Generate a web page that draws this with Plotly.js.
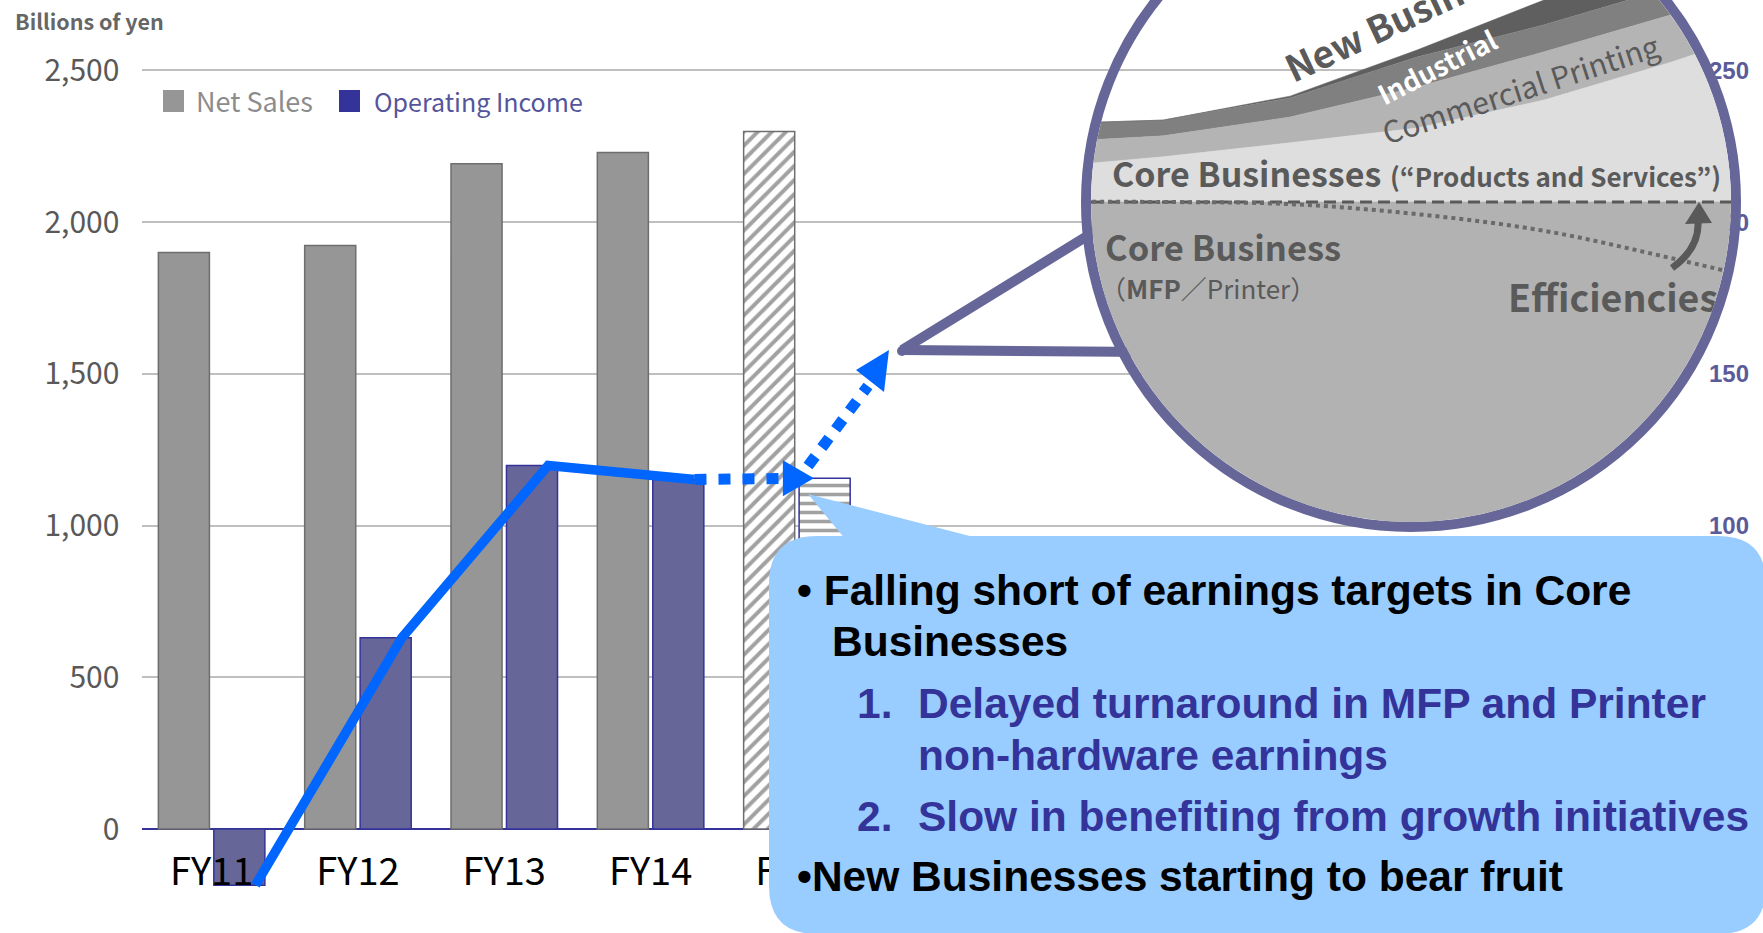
<!DOCTYPE html>
<html><head><meta charset="utf-8">
<script src="https://cdn.plot.ly/plotly-3.0.1.min.js"></script>
<style>
html,body{margin:0;padding:0;background:#fff;overflow:hidden;width:1763px;height:933px;position:relative;}
#main{position:absolute;left:0;top:0;width:1763px;height:933px;}
#lens{position:absolute;left:1081px;top:-128px;width:660px;height:660px;border:10px solid #666699;border-radius:50%;overflow:hidden;box-sizing:border-box;z-index:2;}
#inset{position:absolute;left:0;top:0;width:640px;height:640px;}
</style></head>
<body>
<div id="main"></div>
<div id="lens"><div id="inset"></div></div>
<script>
// ---------------- data ----------------
const categories = ['FY11', 'FY12', 'FY13', 'FY14', 'FY15'];
const netSales = [1900, 1923, 2193, 2230, 2299];
const operatingIncome = [-18.5, 63, 119.8, 115.2, 115.6];
const leftTickVals = [0, 500, 1000, 1500, 2000, 2500];
const leftTickText = ['0', '500', '1,000', '1,500', '2,000', '2,500'];
const rightTickVals = [100, 150, 200, 250];
// inset illustration (stacked bands, same units as right axis)
const insetX = [-1, 0, 1, 2, 3, 4, 5];
const coreMFP = [206.5, 206.5, 206.5, 206.5, 206.5, 206.5, 206.5];
const coreProducts = [11.2, 14.9, 19.5, 24.4, 33.6, 46.1, 60.0];
const commercialPrinting = [8.3, 6.9, 8.5, 13.5, 15.9, 15.6, 14.8];
const industrialBand = [6.2, 5.2, 6.3, 9.9, 8.9, 8.9, 8.3];
const newBusinessBand = [0, 0, 0.6, 2.3, 8.2, 12.5, 16.5];
const efficiencyLine = [206.5, 206.5, 205.8, 202.5, 197, 188, 178];

// ---------------- helpers ----------------
const W = 1763, H = 933;
const fx = px => px / W, fy = py => 1 - py / H;
function pathPx(cmds, X, Y) {
  return cmds.map(c => {
    const k = c[0]; const a = c.slice(1); const out = [];
    for (let i = 0; i < a.length; i += 2) out.push(X(a[i]).toFixed(5) + ',' + Y(a[i + 1]).toFixed(5));
    return k + out.join(' ');
  }).join(' ');
}
function roundRect(x0, y0, x1, y1, r) {
  return [['M', x0 + r, y0], ['L', x1 - r, y0], ['Q', x1, y0, x1, y0 + r], ['L', x1, y1 - r], ['Q', x1, y1, x1 - r, y1],
          ['L', x0 + r, y1], ['Q', x0, y1, x0, y1 - r], ['L', x0, y0 + r], ['Q', x0, y0, x0 + r, y0], ['Z']];
}
const jp = 'Noto Sans CJK JP, Noto Sans, sans-serif';
const ar = 'Liberation Sans, Arial, sans-serif';
const idx = categories.map((c, i) => i);
const lineX = operatingIncome.slice(0, 4).map((v, i) => i + 0.3);

// ---------------- main chart ----------------
const traces = [
  {
    type: 'bar', x: idx, y: netSales, width: 0.349, offset: -0.364, name: 'Net Sales',
    marker: {
      color: netSales.map((v, i) => i === 4 ? '#ffffff' : '#969696'),
      line: { color: '#6e6e6e', width: 1.5 },
      pattern: { shape: netSales.map((v, i) => i === 4 ? '/' : ''), fgcolor: '#8a8a8a', size: 10, solidity: 0.4, fillmode: 'overlay' }
    }
  },
  {
    type: 'bar', x: idx, y: operatingIncome, yaxis: 'y2', width: 0.349, offset: 0.015, name: 'Operating Income',
    marker: {
      color: operatingIncome.map((v, i) => i === 4 ? '#ffffff' : '#666699'),
      line: { color: '#333399', width: 1.5 },
      pattern: { shape: operatingIncome.map((v, i) => i === 4 ? '-' : ''), fgcolor: '#666699', size: 9, solidity: 0.4, fillmode: 'overlay' }
    }
  },
  {
    type: 'scatter', mode: 'lines', x: lineX, y: operatingIncome.slice(0, 4), yaxis: 'y2',
    line: { color: '#0066ff', width: 9.5 }, hoverinfo: 'skip'
  },
  {
    type: 'scatter', mode: 'lines', x: [3.3, 4.0], y: [operatingIncome[3], operatingIncome[4]], yaxis: 'y2',
    line: { color: '#0066ff', width: 11, dash: '12px,12px' }, hoverinfo: 'skip'
  }
];

const shapes = [];
// callout pointer + box
shapes.push({ type: 'path', xref: 'paper', yref: 'paper', layer: 'above', fillcolor: '#99ccff', line: { width: 0 },
  path: pathPx([['M', 808, 494], ['L', 985, 540], ['L', 846, 540], ['Z']], fx, fy) });
shapes.push({ type: 'path', xref: 'paper', yref: 'paper', layer: 'above', fillcolor: '#99ccff', line: { width: 0 },
  path: pathPx(roundRect(769, 536, 1766, 934, 48), fx, fy) });
// magnifier pointer (white wedge, two purple edges, round tip)
shapes.push({ type: 'path', xref: 'paper', yref: 'paper', layer: 'above', fillcolor: '#ffffff', line: { width: 0 },
  path: pathPx([['M', 1110, 222], ['L', 902, 350], ['L', 1150, 352], ['Z']], fx, fy) });
shapes.push({ type: 'line', xref: 'paper', yref: 'paper', layer: 'above', line: { width: 10, color: '#666699' },
  x0: fx(902), y0: fy(350), x1: fx(1110), y1: fy(222) });
shapes.push({ type: 'line', xref: 'paper', yref: 'paper', layer: 'above', line: { width: 10, color: '#666699' },
  x0: fx(902), y0: fy(350), x1: fx(1150), y1: fy(352) });
shapes.push({ type: 'circle', xref: 'paper', yref: 'paper', layer: 'above', fillcolor: '#666699', line: { width: 0 },
  x0: fx(897), x1: fx(907), y0: fy(346), y1: fy(356) });
// legend swatches
shapes.push({ type: 'rect', xref: 'paper', yref: 'paper', layer: 'above', fillcolor: '#969696', line: { width: 0 },
  x0: fx(163), x1: fx(184), y0: fy(90), y1: fy(112) });
shapes.push({ type: 'rect', xref: 'paper', yref: 'paper', layer: 'above', fillcolor: '#333399', line: { width: 0 },
  x0: fx(339), x1: fx(360), y0: fy(90), y1: fy(112) });
// dotted arrow toward magnifier
shapes.push({ type: 'line', xref: 'paper', yref: 'paper', layer: 'above', line: { color: '#0066ff', width: 11, dash: '12px,11px' },
  x0: fx(808), y0: fy(466), x1: fx(868), y1: fy(386) });
shapes.push({ type: 'path', xref: 'paper', yref: 'paper', layer: 'above', fillcolor: '#0066ff', line: { width: 0 },
  path: pathPx([['M', 889, 350], ['L', 856, 370], ['L', 884, 392], ['Z']], fx, fy) });
// arrowhead at end of the dotted forecast line
shapes.push({ type: 'path', xref: 'x', yref: 'y2', xsizemode: 'pixel', ysizemode: 'pixel', layer: 'above',
  xanchor: 4.0, yanchor: operatingIncome[4], fillcolor: '#0066ff', line: { width: 0 },
  path: 'M-14,-18 L17,0 L-14,18 Z' });

const ann = [];
function A(text, px, py, size, color, opts) {
  ann.push(Object.assign({ text: text, xref: 'paper', yref: 'paper', x: fx(px), y: fy(py), showarrow: false,
    xanchor: 'left', yanchor: 'middle', font: { family: ar, size: size, color: color, weight: 'bold' } }, opts || {}));
}
A('Billions of yen', 13, 21, 21, '#666666', { font: { family: jp, size: 21.5, color: '#666666', weight: 'bold' } });
A('Net Sales', 194, 101, 27, '#8c8c8c', { font: { family: jp, size: 27, color: '#8c8c8c' } });
A('Operating Income', 372, 101, 25, '#55559b', { font: { family: jp, size: 25, color: '#55559b' } });
// callout text
A('\u2022 Falling short of earnings targets in Core', 795, 590, 42.5, '#000000');
A('Businesses', 830, 641, 42.5, '#000000');
A('1.', 855, 703, 42.5, '#333399');
A('Delayed turnaround in MFP and Printer', 916, 703, 42.5, '#333399');
A('non-hardware earnings', 916, 755, 42.5, '#333399');
A('2.', 855, 816, 42.5, '#333399');
A('Slow in benefiting from growth initiatives', 916, 816, 42.5, '#333399');
A('\u2022New Businesses starting to bear fruit', 795, 876, 42.5, '#000000');

const layout = {
  width: W, height: H, margin: { l: 0, r: 0, t: 0, b: 0 },
  paper_bgcolor: '#ffffff', plot_bgcolor: '#ffffff', showlegend: false, barmode: 'overlay',
  xaxis: {
    type: 'linear', domain: [fx(142.4), fx(1410)], range: [-0.473, 8.19],
    tickvals: idx, ticktext: categories, anchor: 'free', position: fy(846),
    showgrid: false, zeroline: false, showline: false, ticks: '',
    tickfont: { family: jp, size: 38, color: '#000000' }
  },
  yaxis: {
    domain: [fy(900), fy(40)], range: [-234.0, 2600.5],
    tickvals: leftTickVals, ticktext: leftTickText, ticks: '',
    showgrid: true, gridcolor: '#bfbfbf', gridwidth: 2,
    zeroline: true, zerolinecolor: '#d0d0d0', zerolinewidth: 2,
    ticklabelstandoff: 22,
    tickfont: { family: jp, size: 30, color: '#595959' }
  },
  yaxis2: {
    overlaying: 'y', side: 'right', anchor: 'free', position: fx(1708),
    range: [-23.40, 260.05], tickvals: rightTickVals, ticks: '',
    showgrid: false, zeroline: true, zerolinecolor: '#333399', zerolinewidth: 1.5,
    tickfont: { family: ar, size: 24, color: '#5b5b99', weight: 'bold' }
  },
  shapes: shapes, annotations: ann
};
Plotly.newPlot('main', traces, layout, { staticPlot: true });

// ---------------- magnifier inset ----------------
const IW = 640, IL = 1091, IT = -118;
const ix = px => (px - IL) / IW, iy = py => 1 - (py - IT) / IW;
const bandStyle = (name, vals, color) => ({
  type: 'scatter', mode: 'lines', x: insetX, y: vals, name: name, stackgroup: 'bands',
  fillcolor: color, line: { width: 0.5, color: color }, hoverinfo: 'skip'
});
const insetTraces = [
  Object.assign(bandStyle('Core Business (MFP/Printer)', coreMFP, '#b2b2b2'), { fill: 'tozeroy' }),
  bandStyle('Core Businesses', coreProducts, '#dedede'),
  bandStyle('Commercial Printing', commercialPrinting, '#b4b4b4'),
  bandStyle('Industrial', industrialBand, '#808080'),
  bandStyle('New Business', newBusinessBand, '#5f5f5f'),
  { type: 'scatter', mode: 'lines', x: insetX, y: coreMFP, line: { color: '#595959', width: 3, dash: '12px,6px' }, hoverinfo: 'skip' },
  { type: 'scatter', mode: 'lines', x: insetX, y: efficiencyLine, line: { color: '#6a6a6a', width: 4, dash: '4px,4px', shape: 'spline' }, hoverinfo: 'skip' }
];
const ia = [];
function IA(text, px, py, size, color, weight, opts) {
  ia.push(Object.assign({ text: text, xref: 'paper', yref: 'paper', x: ix(px), y: iy(py), showarrow: false,
    xanchor: 'left', yanchor: 'middle', font: { family: jp, size: size, color: color, weight: weight } }, opts || {}));
}
IA('Core Businesses', 1110, 172, 34, '#5a5a5a', 'bold');
IA('(\u201CProducts and Services\u201D)', 1388, 175, 26, '#5a5a5a', 'bold');
IA('Core Business', 1103, 246, 34.5, '#5a5a5a', 'bold');
IA('\uFF08<b>MFP</b>\uFF0FPrinter\uFF09', 1098, 287, 26, '#5a5a5a', 'normal');
IA('Efficiencies', 1506, 295, 37.5, '#5a5a5a', 'bold');
IA('Commercial Printing', 1520, 88, 30, '#5a5a5a', 'normal', { xanchor: 'center', textangle: -18 });
IA('Industrial', 1436, 66, 27, '#ffffff', 'bold', { xanchor: 'center', textangle: -27 });
IA('New Business', 1400, 16, 37, '#5a5a5a', 'bold', { xanchor: 'center', textangle: -25 });

const insetShapes = [
  { type: 'path', xref: 'paper', yref: 'paper', line: { color: '#595959', width: 7 }, fillcolor: 'rgba(0,0,0,0)',
    path: pathPx([['M', 1672, 268], ['Q', 1700, 248, 1698, 220]], ix, iy) },
  { type: 'path', xref: 'paper', yref: 'paper', line: { width: 0 }, fillcolor: '#595959',
    path: pathPx([['M', 1699, 202], ['L', 1685, 224], ['L', 1712, 223], ['Z']], ix, iy) }
];
const insetLayout = {
  width: IW, height: IW, margin: { l: 0, r: 0, t: 0, b: 0 },
  paper_bgcolor: 'rgba(0,0,0,0)', plot_bgcolor: 'rgba(0,0,0,0)', showlegend: false,
  xaxis: { range: [(IL - 1163) / 127, (IL + IW - 1163) / 127], visible: false, fixedrange: true },
  yaxis: { range: [(828.3 - (IT + IW)) / 3.033, (828.3 - IT) / 3.033], visible: false, fixedrange: true },
  annotations: ia, shapes: insetShapes
};
Plotly.newPlot('inset', insetTraces, insetLayout, { staticPlot: true });
</script>
</body></html>
